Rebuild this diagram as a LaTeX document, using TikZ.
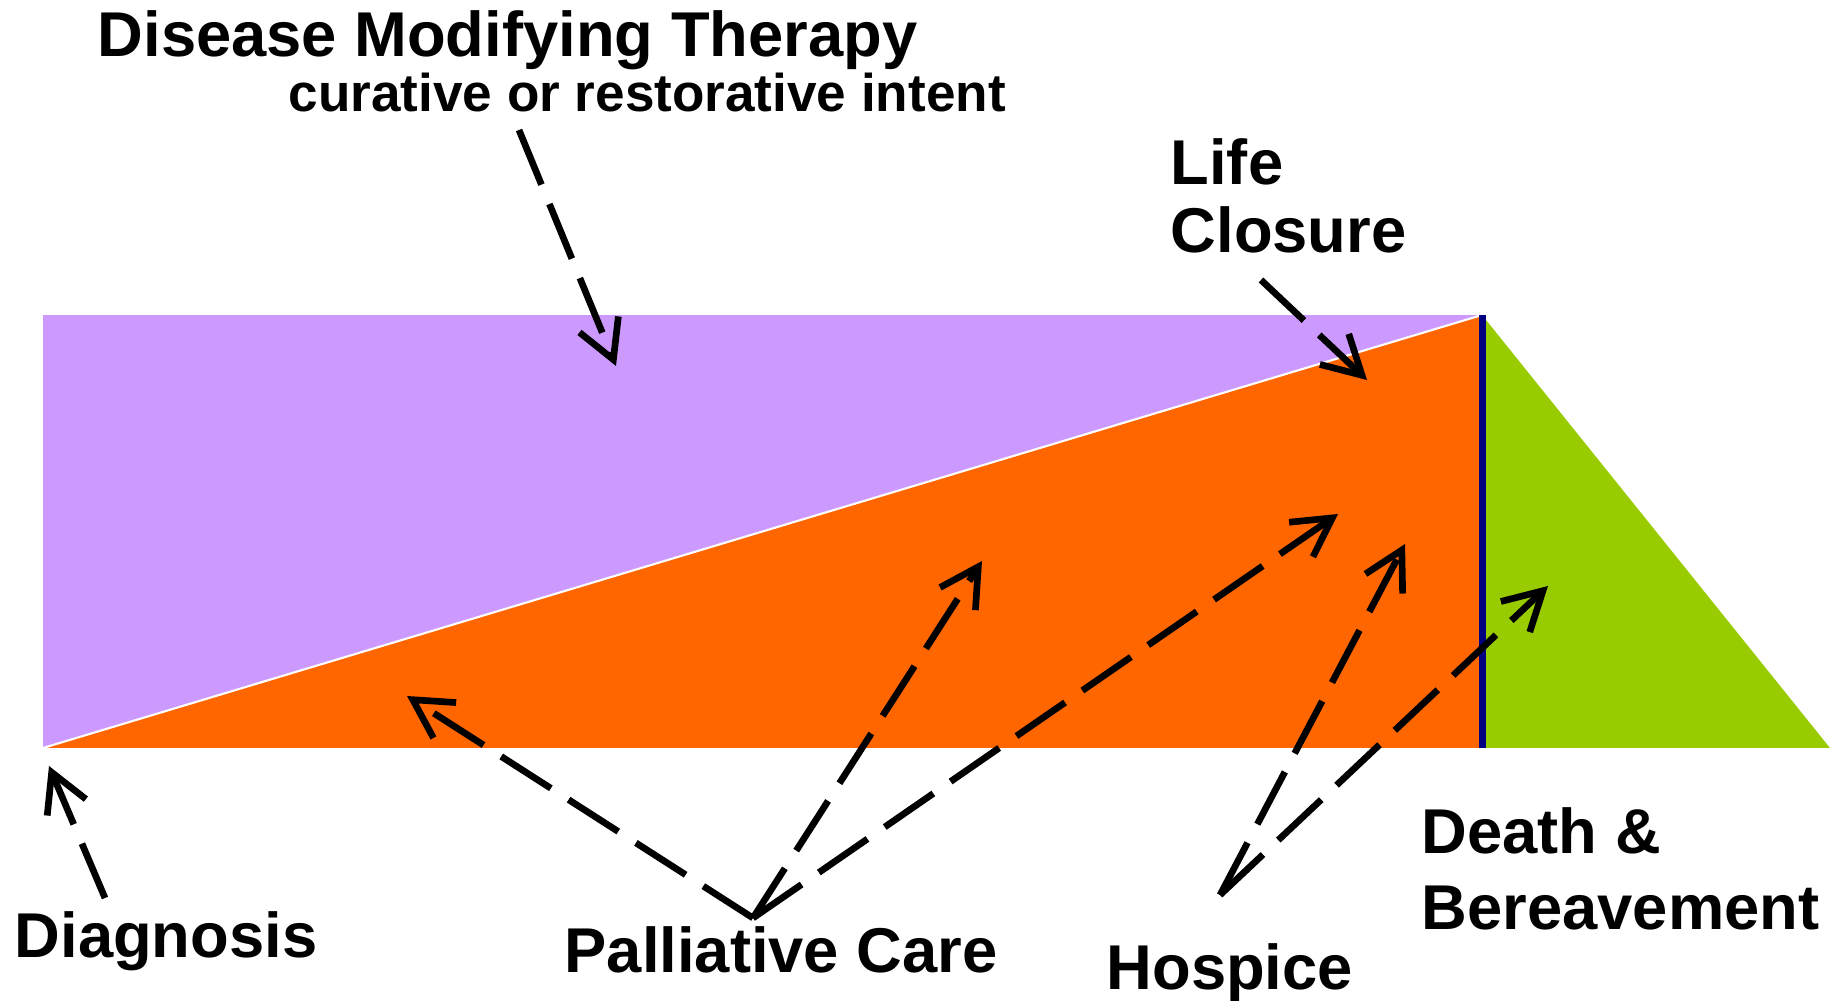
\documentclass[tikz,border=0pt]{standalone}
\usepackage{fontspec}
\setmainfont{Liberation Sans}
\usetikzlibrary{arrows.meta}
\definecolor{therapy}{HTML}{CC99FF}
\definecolor{palliative}{HTML}{FF6600}
\definecolor{bereave}{HTML}{99CC00}
\definecolor{deathline}{HTML}{000080}
\tikzset{
	lbl/.style={inner sep=0pt, anchor=base west, align=left, font=\fontsize{18pt}{19.4pt}\selectfont\bfseries},
	sublbl/.style={inner sep=0pt, anchor=base west, font=\fontsize{15.1pt}{17pt}\selectfont\bfseries},
	ptr/.style={line width=1.9pt, dash pattern=on 0.59cm off 0.21cm, -{Straight Barb[length=0.38cm,width=0.42cm]}},
}

\begin{document}
\begin{tikzpicture}[x=0.01cm,y=-0.01cm]
	\useasboundingbox (0,0) rectangle (1830,1001);
	% bands
	\fill[therapy] (43,315) rectangle (1482,748);
	\fill[palliative] (43,748) -- (1482,315) -- (1482,748) -- cycle;
	\fill[bereave] (1482,315) -- (1830,748) -- (1482,748) -- cycle;
	\draw[white, line width=0.6pt] (43,748) -- (1482,315);
	\draw[deathline, line width=2pt] (1482,315) -- (1482,748);
	% labels (multi-line ones sit on their last baseline)
	\node[lbl] (dmt) at (97,57) {Disease Modifying Therapy};
	\node[sublbl] (intent) at (288,112) {curative or restorative intent};
	\node[lbl] (life) at (1170,253) {Life\\Closure};
	\node[lbl] (diag) at (14,958) {Diagnosis};
	\node[lbl] (pall) at (564,973) {Palliative Care};
	\node[lbl] (hosp) at (1106,990) {Hospice};
	\node[lbl] (death) at (1421,930) {Death \&\\[2.3pt]Bereavement};
	% arrow ends
	\coordinate (intent-out) at (519,130);
	\coordinate (dmt-in) at (616,366);
	\coordinate (life-out) at (1261,280);
	\coordinate (life-in) at (1367,380);
	\coordinate (diag-out) at (105,898);
	\coordinate (diag-in) at (49,766);
	\coordinate (pall-out) at (753,918);
	\coordinate (pall-a) at (407,696);
	\coordinate (pall-b) at (982,561);
	\coordinate (pall-c) at (1338,514);
	\coordinate (hosp-out) at (1220,895);
	\coordinate (hosp-a) at (1405,544);
	\coordinate (hosp-b) at (1548,586);
	% pointers
	\draw[ptr] (intent-out) -- (dmt-in);
	\draw[ptr] (life-out) -- (life-in);
	\draw[ptr] (diag-out) -- (diag-in);
	\draw[ptr] (pall-out) -- (pall-a);
	\draw[ptr] (pall-out) -- (pall-b);
	\draw[ptr] (pall-out) -- (pall-c);
	\draw[ptr] (hosp-out) -- (hosp-a);
	\draw[ptr] (hosp-out) -- (hosp-b);
\end{tikzpicture}
\end{document}
